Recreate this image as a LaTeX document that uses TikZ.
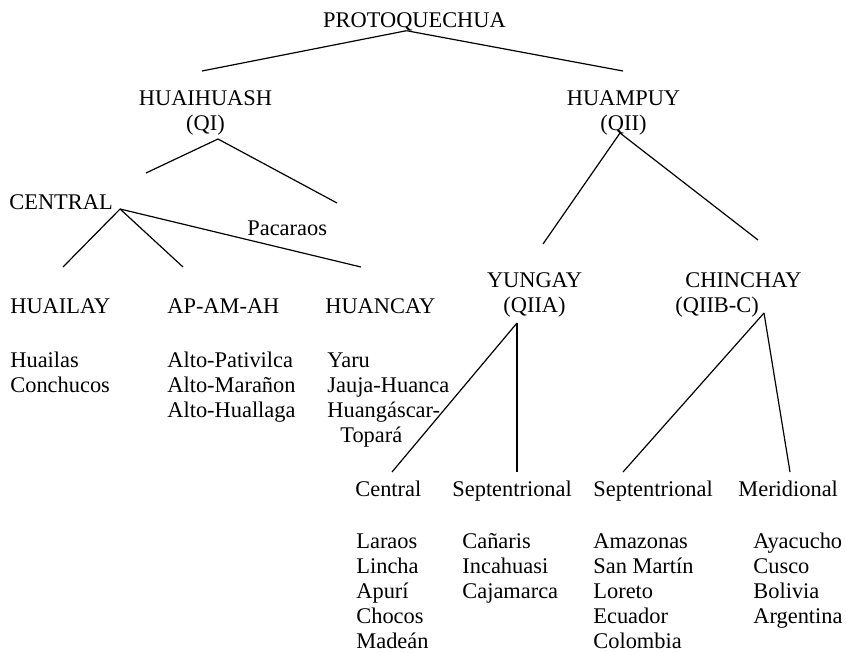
\documentclass[tikz,border=0pt]{standalone}
\usepackage{fontspec}
\setmainfont{Liberation Serif}
\usetikzlibrary{calc}

\begin{document}
\begin{tikzpicture}[x=0.5pt,y=-0.5pt,
  lbl/.style={inner sep=0pt, font=\fontsize{11.2}{12.5}\selectfont},
  hd/.style={lbl, anchor=base, align=center},
  lst/.style={lbl, anchor=base west, align=left},
  br/.style={line width=0.6pt}]
\useasboundingbox (0,0) rectangle (846,653);
% families (multi-line nodes sit on their last line)
\node[hd] (proto) at (414.5,27.7) {PROTOQUECHUA};
\node[hd] (qi) at (205.5,130) {HUAIHUASH\\(QI)};
\node[hd] (qii) at (623.5,130) {HUAMPUY\\(QII)};
\node[lst] (central) at (9,209) {CENTRAL};
\node[lst] (pacaraos) at (247,235) {Pacaraos};
\node[lst] (huailay) at (10,313) {HUAILAY};
\node[lst] (apamah) at (167,313) {AP-AM-AH};
\node[lst] (huancay) at (325,313) {HUANCAY};
\node[hd] (yungay) at (534.5,312) {YUNGAY\\(QIIA)};
\node[lst] (chinchay) at (675,312) {\hspace*{5pt}CHINCHAY\\(QIIB-C)};
\node[lst] (ycentral) at (355,496) {Central};
\node[lst] (ysept) at (452,496) {Septentrional};
\node[lst] (csept) at (593,496) {Septentrional};
\node[lst] (cmerid) at (738,496) {Meridional};
% dialects
\node[lst] (l-huailay) at (10,392) {Huailas\\Conchucos};
\node[lst] (l-apamah) at (167,417) {Alto-Pativilca\\Alto-Marañon\\Alto-Huallaga};
\node[lst] (l-huancay) at (327,442) {Yaru\\Jauja-Huanca\\Huangáscar-\\\hspace*{6.5pt}Topará};
\node[lst] (l-ycentral) at (356,648) {Laraos\\Lincha\\Apurí\\Chocos\\Madeán};
\node[lst] (l-ysept) at (462,598) {Cañaris\\Incahuasi\\Cajamarca};
\node[lst] (l-csept) at (593,648) {Amazonas\\San Martín\\Loreto\\Ecuador\\Colombia};
\node[lst] (l-cmerid) at (753,623) {Ayacucho\\Cusco\\Bolivia\\Argentina};
% branch ends
\coordinate (t-qi) at (202,71);
\coordinate (t-qii) at (623,71);
\coordinate (t-central) at (146,173);
\coordinate (t-pacaraos) at (337,203);
\coordinate (t-huailay) at (63,267);
\coordinate (t-apamah) at (183,267);
\coordinate (t-huancay) at (361,267);
\coordinate (t-yungay) at (543,244);
\coordinate (t-chinchay) at (758,240);
\coordinate (t-ycentral) at (392,472);
\coordinate (t-ysept) at (517,472);
\coordinate (t-csept) at (623,472);
\coordinate (t-cmerid) at (790,472);
% branches
\draw[br] ($(proto.base)+(-8,3)$) -- (t-qi);
\draw[br] ($(proto.base)+(-8,3)$) -- (t-qii);
\draw[br] ($(qi.base)+(12.5,9)$) -- (t-central);
\draw[br] ($(qi.base)+(12.5,9)$) -- (t-pacaraos);
\draw[br] ($(central.base east)+(7,0)$) -- (t-huailay);
\draw[br] ($(central.base east)+(7,0)$) -- (t-apamah);
\draw[br] ($(central.base east)+(7,0)$) -- (t-huancay);
\draw[br] ($(qii.base)+(-3.5,3)$) -- (t-yungay);
\draw[br] ($(qii.base)+(-3.5,3)$) -- (t-chinchay);
\draw[br] ($(yungay.base)+(-17.5,11)$) -- (t-ycentral);
\draw[br] ($(yungay.base)+(-17.5,11)$) -- (t-ysept);
\draw[br] ($(chinchay.base west)+(89,1)$) -- (t-csept);
\draw[br] ($(chinchay.base west)+(89,1)$) -- (t-cmerid);
\end{tikzpicture}
\end{document}
